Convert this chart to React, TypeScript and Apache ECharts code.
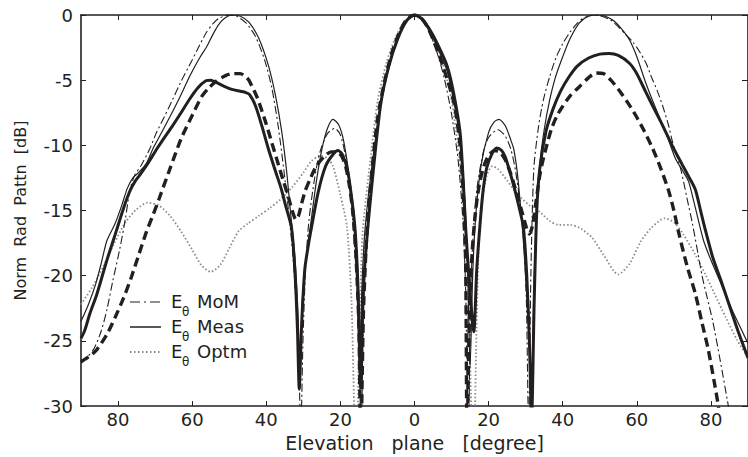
import React, { useEffect, useRef } from 'react';
import * as echarts from 'echarts';

const xTickValues = [-80, -60, -40, -20, 0, 20, 40, 60, 80];
const yMin = -30;
const yMax = 0;
const yStep = 5;

const legendNames = ['MoM', 'Meas', 'Optm'];

// E_theta MoM (thin dash-dot)
const momData = [
  [-90, -26.7], [-88.5, -26.3], [-86.5, -25.6], [-84.5, -24.2], [-83, -22.6], [-81.5, -20.5], [-79.5, -17.9], [-78, -15.6],
  [-76.8, -13.4], [-75.5, -12.3], [-73.7, -11.5], [-71.5, -10.3], [-69.6, -9.0], [-67.5, -7.8], [-65.3, -6.5], [-63, -5.1],
  [-60.8, -3.9], [-58.5, -2.6], [-56.3, -1.4], [-54.5, -0.7], [-52.8, -0.25], [-50, 0], [-48, -0.1], [-45.5, -0.6],
  [-43, -1.6], [-40.5, -3.4], [-38.5, -5.6], [-36.8, -8.5], [-35.3, -11.8], [-34, -15], [-32.8, -18.5], [-31.8, -23],
  [-31.2, -27], [-30.7, -32], [-30.1, -25], [-29.4, -19.5], [-28.5, -15.8], [-27, -12.6], [-25.5, -10.5], [-23.5, -9.1],
  [-21.5, -8.7], [-20, -9.2], [-18.7, -10.7], [-17.5, -13.2], [-16.5, -16.5], [-15.5, -21], [-14.9, -26], [-14.4, -33],
  [-13.8, -23], [-13, -17.5], [-12, -13.7], [-10, -8.5], [-8, -5.2], [-6, -2.9], [-4, -1.3], [-2, -0.35], [0, 0],
  [2, -0.35], [4, -1.3], [6, -2.8], [8, -4.8], [10, -7.6], [11.8, -11.2], [13, -15.5], [13.8, -21], [14.5, -33],
  [15.2, -21], [16, -16], [17, -13], [18.5, -10.6], [20, -9.4], [22.5, -8.8], [24.5, -9.3], [26, -10.3], [27.3, -12],
  [28.5, -14.5], [29.5, -17.5], [30.2, -22], [30.8, -32], [31.4, -20], [32.2, -11.8], [33.5, -8.5], [34.8, -6.5],
  [36.5, -4.7], [38.3, -3.2], [40, -2.2], [42, -1.3], [44, -0.6], [45.5, -0.25], [48, 0], [50, -0.05], [53, -0.4],
  [55, -0.9], [57, -1.5], [59, -2.1], [60.5, -2.7], [62.5, -3.7], [64, -4.8], [65.5, -5.8], [67, -7.0], [68.5, -8.4],
  [69.6, -9.7], [71, -11], [72, -12], [73.5, -14], [75, -16], [76.5, -18.3], [77.6, -20], [79, -21.7], [80.5, -23.5],
  [82.5, -26.5], [84.7, -30], [86.5, -33],
];

// E_theta Meas (thin solid)
const measData = [
  [-90, -23.5], [-88, -22.2], [-86, -20.6], [-84.5, -19.0], [-83, -17.3], [-80.8, -16.0], [-79, -14.6], [-77.5, -13.3],
  [-76, -12.5], [-74.5, -12.1], [-72.4, -11.4], [-70.5, -10.2], [-68.8, -9.3], [-66, -7.8], [-63.5, -6.4], [-60.5, -4.6],
  [-58, -3.3], [-56, -2.4], [-54.6, -1.6], [-53, -0.8], [-51.5, -0.3], [-49.3, 0], [-47, -0.1], [-44.7, -0.55],
  [-42, -1.8], [-39.4, -3.9], [-37.5, -6.2], [-35.8, -9.0], [-34.5, -12], [-33.5, -15.0], [-32.3, -18.5], [-31.5, -22.5],
  [-30.9, -27.5], [-30.3, -22], [-29.2, -18.5], [-28, -16.0], [-26.5, -12.8], [-25, -10.3], [-23.5, -8.7], [-22, -8.0],
  [-20.5, -8.4], [-19.5, -9.2], [-18.7, -10.3], [-17.8, -12], [-17, -14], [-16, -17], [-15.4, -21], [-14.8, -27],
  [-14.2, -21], [-13.5, -17], [-12.5, -14], [-11, -10.5], [-9, -6.5], [-7, -3.9], [-4.5, -1.8], [-2, -0.4], [0, 0],
  [2, -0.35], [4.5, -1.5], [6.5, -2.7], [8.8, -4.3], [10.5, -6.5], [12.3, -9.6], [13.5, -13.8], [14.3, -19], [15, -27],
  [15.7, -20], [16.5, -15.5], [18, -11.5], [20, -9], [21.5, -8.2], [22.8, -8.0], [24.5, -8.5], [26, -9.6], [26.8, -10.3],
  [27.7, -12], [28.4, -14], [29.3, -17], [30.2, -21], [31, -25], [31.6, -29], [32.3, -20], [33, -15], [33.8, -11.5],
  [35, -8.8], [36.5, -6.5], [38, -4.8], [40, -3.2], [42, -1.8], [44.5, -0.6], [47, -0.1], [49.8, 0], [52, -0.15],
  [54, -0.5], [56, -1.1], [58, -1.9], [60, -3.2], [62.4, -5.2], [65, -7.1], [67.8, -9.0], [70.4, -11], [72.5, -12],
  [74, -12.8], [75.8, -14.8], [78, -17.3], [80, -18.8], [83, -20.8], [86, -22.8], [88.5, -24.3], [90, -25.2],
];

// E_theta Optm (grey dotted)
const optmData = [
  [-90, -22.2], [-87, -20.9], [-84, -19.3], [-81, -17.5], [-78, -15.9], [-75, -14.9], [-72, -14.4], [-69, -14.6],
  [-66, -15.4], [-63, -16.6], [-60, -18], [-57.5, -19.2], [-55, -19.7], [-52.5, -19.2], [-50, -17.9], [-47.5, -16.6],
  [-45, -16.0], [-42, -15.4], [-39, -14.8], [-36, -14.1], [-33, -13.2], [-30, -12.1], [-27.8, -11.2], [-25.5, -10.8],
  [-23.5, -11.0], [-22, -11.6], [-20, -13.8], [-18.2, -16.3], [-17, -22], [-16.3, -30], [-15.7, -36], [-15.1, -27],
  [-14.4, -19.5], [-13.9, -16.3], [-12, -11.3], [-9.9, -6.5], [-7.5, -3.6], [-5.4, -1.9], [-3, -0.6], [0, 0],
  [3, -0.6], [5.4, -1.9], [7.5, -3.6], [10, -6.5], [12, -10.8], [13.7, -16.3], [14.6, -22], [15.3, -30], [15.9, -36],
  [16.6, -26], [17.3, -18], [18.3, -14.2], [19.5, -12.3], [21, -11.6], [22.5, -11.8], [25, -12.7], [28, -13.8],
  [31, -14.6], [33.8, -15.1], [36.5, -15.8], [39, -16.1], [42, -16.1], [45, -16.4], [48, -17.1], [51, -18.4],
  [55, -19.9], [58, -19.1], [61, -17.4], [64, -16.3], [67.5, -15.6], [70, -15.9], [72.5, -16.8], [75.8, -18.4],
  [78.5, -19.9], [81, -21.4], [84, -23.2], [87, -24.9], [90, -26.3],
];

// second measured curve (thick solid)
const meas2Data = [
  [-90, -24.8], [-89, -24.2], [-87.6, -22.9], [-85.7, -21.4], [-83, -18.8], [-80.4, -16.5], [-78.5, -14.8], [-76.8, -13.5],
  [-75.5, -12.8], [-74.2, -12.3], [-72, -11.4], [-69.6, -10.3], [-67.5, -9.4], [-65.3, -8.5], [-63, -7.5], [-60.8, -6.5],
  [-58.5, -5.6], [-56.3, -5.05], [-55, -5.0], [-53.6, -5.15], [-51.5, -5.45], [-49.3, -5.7], [-47, -5.85], [-45.5, -5.95],
  [-44.5, -6.1], [-43, -6.9], [-41.2, -8.5], [-39.4, -10.3], [-37.5, -12], [-36, -13.3], [-34.8, -14.6], [-33.2, -16.3],
  [-32.3, -19.5], [-31.6, -24], [-31.1, -28.7], [-30.5, -24], [-29.6, -19.5], [-28.5, -17.4], [-27.8, -16.3], [-26, -13.6],
  [-24, -11.6], [-22, -10.7], [-20.6, -10.4], [-19.3, -10.8], [-18, -12], [-16.8, -14.4], [-16, -16.6], [-15.3, -20.5],
  [-14.5, -28.6], [-13.8, -21], [-12.6, -16.3], [-11, -11.6], [-9.1, -6.8], [-7, -4.0], [-4.5, -1.8], [-2, -0.4], [0, 0],
  [2, -0.3], [4.5, -1.3], [6.5, -2.4], [8.8, -3.9], [10.5, -5.9], [12.3, -9.0], [13.2, -13], [13.8, -16.3], [14.8, -20.5],
  [16, -24.3], [16.8, -19.5], [17.7, -16.0], [18.5, -13.5], [19.5, -11.7], [21, -10.6], [22.2, -10.2], [23.5, -10.4],
  [24.5, -10.9], [25.5, -11.8], [26.5, -12.8], [27.6, -14], [28.6, -15.2], [29.4, -16.3], [30.3, -20], [31, -25],
  [31.6, -31], [32.3, -22], [33, -15], [33.8, -11.8], [35.5, -8.9], [37.4, -7.2], [39.5, -5.8], [41.8, -4.7], [44, -3.9],
  [47, -3.3], [50, -3.0], [52.5, -2.95], [55, -3.1], [58, -3.7], [60, -4.5], [62.4, -5.9], [64.5, -7.1], [67, -8.5],
  [69.5, -10], [72.3, -11.5], [74, -12.4], [75.8, -13.4], [77.2, -15.0], [78.5, -16.5], [80.5, -18.6], [82.5, -20.2],
  [85, -22.3], [87.5, -24.4], [90, -26.3],
];

// second computed curve (thick dashed)
const mom2Data = [
  [-90, -26.6], [-88.9, -26.4], [-87.3, -26.1], [-85.8, -25.7], [-83, -24.5], [-80.8, -23.2], [-78.5, -21.7], [-76.4, -20.1],
  [-74.3, -18.3], [-72.3, -16.6], [-70.5, -15.3], [-68.8, -14], [-66, -11.8], [-63, -9.5], [-60, -7.7], [-57.3, -6.2],
  [-55.5, -5.6], [-53.6, -5.1], [-51, -4.65], [-49, -4.5], [-47, -4.5], [-45.5, -4.75], [-44.7, -5.0], [-42.5, -6.3],
  [-40.2, -8.2], [-38.5, -9.8], [-36.7, -11.5], [-35.3, -12.8], [-34, -14], [-33, -15], [-32, -15.7], [-31.3, -15.4],
  [-30.5, -14.5], [-29.5, -13.5], [-28.2, -12.6], [-26.5, -11.6], [-24.5, -10.9], [-22.5, -10.5], [-20.8, -10.5],
  [-19.5, -10.9], [-18.5, -11.7], [-17.5, -13.2], [-16.5, -15.5], [-15.7, -19], [-15, -24], [-14.5, -33], [-13.8, -23],
  [-13, -17.5], [-12, -13.5], [-10, -8], [-8, -5], [-6, -2.8], [-4, -1.3], [-2, -0.3], [0, 0], [2, -0.3], [4, -1.2],
  [6, -2.6], [8, -4.2], [10.7, -6.8], [12.3, -10], [13.2, -14], [13.8, -19], [14.2, -33], [14.8, -23], [15.6, -18],
  [16.5, -15], [17.5, -13], [18.7, -11.6], [20, -10.8], [21.5, -10.4], [23, -10.5], [24.5, -11.1], [26, -12.2],
  [27.5, -13.6], [29, -15.1], [30.2, -16.3], [31, -16.8], [31.8, -16.2], [32.8, -14.3], [34, -12], [35.5, -10.2],
  [37, -8.7], [38.5, -7.7], [40, -7], [42, -6.2], [44.5, -5.5], [47, -4.8], [49, -4.45], [51, -4.5], [53, -5.0],
  [55, -5.7], [57.5, -6.7], [59.7, -7.7], [62, -8.9], [64.2, -10.2], [66.5, -11.8], [68.6, -13.5], [70, -15],
  [71.3, -16.7], [73.5, -19.2], [75.8, -21.4], [77.5, -23.5], [79.3, -25.7], [80.8, -28], [82, -30], [83.5, -33],
];

const INK = '#231f20';
const FONT = 'DejaVu Sans';

export default function App() {
  const ref = useRef<HTMLDivElement>(null);

  useEffect(() => {
    if (!ref.current) return;
    const chart = echarts.init(ref.current, null, { renderer: 'svg' });

    const line = (name: string, data: number[][], style: any, z: number) => ({
      name,
      type: 'line',
      data,
      xAxisIndex: 0,
      yAxisIndex: 0,
      showSymbol: false,
      symbol: 'none',
      smooth: 0.25,
      clip: true,
      z,
      lineStyle: style,
      emphasis: { disabled: true },
    });

    const legendRows = [
      { y: 302, dash: [10, 4, 2, 4], color: INK, width: 1.1 },
      { y: 327, dash: null, color: INK, width: 1.5 },
      { y: 352, dash: [1.5, 2.5], color: '#8a8a8a', width: 2 },
    ];

    const graphics: any[] = [];
    legendRows.forEach((r, i) => {
      graphics.push({
        type: 'line',
        shape: { x1: 130, y1: r.y, x2: 161, y2: r.y },
        style: { stroke: r.color, lineWidth: r.width, lineDash: r.dash || undefined },
        z: 20,
      });
      graphics.push({
        type: 'text',
        x: 171,
        y: r.y - 1,
        style: { text: 'E', font: `18px "${FONT}"`, fill: INK, textVerticalAlign: 'middle' },
        z: 20,
      });
      graphics.push({
        type: 'text',
        x: 182,
        y: r.y + 10,
        style: { text: 'θ', font: `12px "${FONT}"`, fill: INK, textVerticalAlign: 'middle' },
        z: 20,
      });
      graphics.push({
        type: 'text',
        x: 197,
        y: r.y - 1,
        style: { text: legendNames[i], font: `18px "${FONT}"`, fill: INK, textVerticalAlign: 'middle' },
        z: 20,
      });
    });

    const tickStyle = { show: true, inside: true, length: 5, lineStyle: { color: INK, width: 1 } };
    const axisLineStyle = { show: true, onZero: false, lineStyle: { color: INK, width: 1.6 } };

    chart.setOption({
      animation: false,
      backgroundColor: '#ffffff',
      grid: { left: 81, top: 15, width: 672, height: 395, containLabel: false },
      xAxis: [
        {
          type: 'value',
          position: 'bottom',
          min: -90,
          max: 90,
          axisLine: axisLineStyle,
          axisTick: { ...tickStyle, customValues: xTickValues },
          axisLabel: {
            show: true,
            customValues: xTickValues,
            formatter: (v: number) => String(Math.abs(v)),
            color: INK,
            fontFamily: FONT,
            fontSize: 18,
            margin: 4,
          },
          splitLine: { show: false },
          name: 'Elevation   plane   [degree]',
          nameLocation: 'middle',
          nameGap: 22,
          nameTextStyle: { color: INK, fontFamily: FONT, fontSize: 19 },
        },
        {
          type: 'value',
          position: 'top',
          min: -90,
          max: 90,
          axisLine: axisLineStyle,
          axisTick: { ...tickStyle, customValues: xTickValues },
          axisLabel: { show: false },
          splitLine: { show: false },
        },
      ],
      yAxis: [
        {
          type: 'value',
          position: 'left',
          min: yMin,
          max: yMax,
          interval: yStep,
          axisLine: axisLineStyle,
          axisTick: tickStyle,
          axisLabel: { color: INK, fontFamily: FONT, fontSize: 18, margin: 8 },
          splitLine: { show: false },
          name: 'Norm  Rad  Pattn  [dB]',
          nameLocation: 'middle',
          nameRotate: 90,
          nameGap: 53,
          nameTextStyle: { color: INK, fontFamily: FONT, fontSize: 16 },
        },
        {
          type: 'value',
          position: 'right',
          min: yMin,
          max: yMax,
          interval: yStep,
          axisLine: axisLineStyle,
          axisTick: { ...tickStyle, length: 6 },
          axisLabel: { show: false },
          splitLine: { show: false },
        },
      ],
      series: [
        line('Optm', optmData, { color: '#8a8a8a', width: 1.8, type: [1.5, 2.2] }, 1),
        line('MoM', momData, { color: INK, width: 1.1, type: [8, 3, 2, 3] }, 2),
        line('Meas', measData, { color: INK, width: 1.2, type: 'solid' }, 3),
        line('MoM2', mom2Data, { color: INK, width: 3.4, type: [9, 5] }, 4),
        line('Meas2', meas2Data, { color: INK, width: 3, type: 'solid' }, 5),
      ],
      graphic: graphics,
    });

    return () => chart.dispose();
  }, []);

  return (
    <div
      ref={ref}
      style={{ position: 'absolute', left: 0, top: 0, width: 748, height: 457, background: '#fff' }}
    />
  );
}
